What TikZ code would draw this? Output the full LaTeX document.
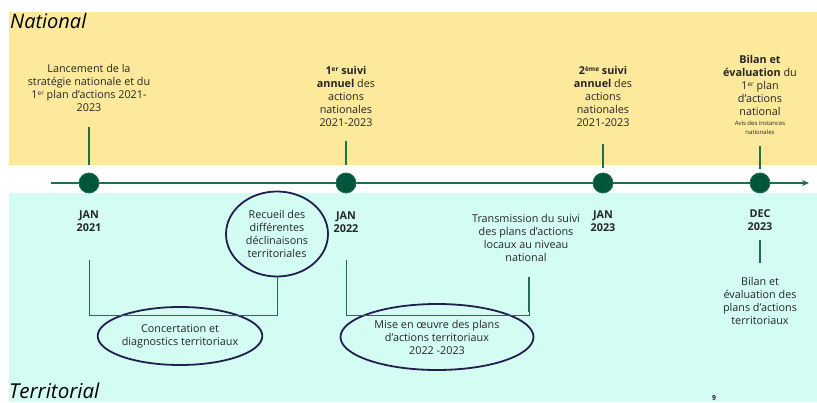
\documentclass[tikz,border=0pt]{standalone}
\usepackage{fontspec}
\setmainfont{Open Sans}
\usetikzlibrary{arrows.meta,shapes.geometric}
\definecolor{natyellow}{HTML}{FCE99C}
\definecolor{terrcyan}{HTML}{D3FCF2}
\definecolor{dotgreen}{HTML}{00553A}
\definecolor{linegreen}{HTML}{1F6E52}
\definecolor{ringblue}{HTML}{221E4F}
\definecolor{txtgray}{HTML}{262626}
\newcommand{\expo}[1]{\raisebox{0.5ex}{\fontsize{6.5}{7}\selectfont #1}}

\begin{document}
\begin{tikzpicture}[x=1pt, y=1pt,
  txt/.style = {align=center, text=txtgray, inner sep=0pt, font=\fontsize{10.8}{13}\selectfont},
  date/.style = {txt, font=\fontsize{10.8}{13}\selectfont\bfseries},
  dot/.style = {circle, minimum size=20pt, inner sep=0pt, fill=dotgreen, draw=linegreen, line width=0.8pt},
  tick/.style = {draw=linegreen, line width=1.5pt},
  bracket/.style = {draw=linegreen, line width=1pt},
  ring/.style = {ellipse, draw=ringblue, line width=1.8pt, inner sep=0pt, align=center, text=txtgray, font=\fontsize{10.8}{13}\selectfont}]
  \useasboundingbox (0,0) rectangle (817,402);
  % bands
  \fill [natyellow] (9,237) rectangle (817,390);
  \fill [terrcyan] (9,0) rectangle (817,209);
  \node [anchor=base west, inner sep=0pt, font=\fontsize{20}{20}\selectfont\itshape] (NAT) at (10,373) {National};
  \node [anchor=base west, inner sep=0pt, text depth=0pt, font=\fontsize{20.5}{20}\selectfont\itshape] (TER) at (9,4) {Territorial};
  % timeline
  \coordinate (START) at (51,219);
  \coordinate (END) at (809,219);
  \draw [linegreen, line width=1.3pt, -{Stealth[length=7pt,width=6pt]}] (START) -- (END);
  \node [dot] (D1) at (89,219) {};
  \node [dot] (D2) at (346,219) {};
  \node [dot] (D3) at (603,219) {};
  \node [dot] (D4) at (760,219) {};
  % national
  \node [txt] (N1) at (89,314.5) {Lancement de la\\strat\'egie nationale et du\\1\expo{er} plan d'actions 2021-\\2023};
  \node [txt] (N2) at (346,306) {\textbf{1\expo{er} suivi}\\\textbf{annuel} des\\actions\\nationales\\2021-2023};
  \node [txt] (N3) at (603,305.5) {\textbf{2\expo{\`eme} suivi}\\\textbf{annuel} des\\actions\\nationales\\2021-2023};
  \node [txt] (N4) at (760,307) {\textbf{Bilan et}\\\textbf{\'evaluation} du\\1\expo{er} plan\\d'actions\\national\\[-3pt]{\fontsize{6}{7}\selectfont Avis des instances}\\[-4pt]{\fontsize{6}{7}\selectfont nationales}};
  \draw [tick] (89,275) -- (89,237);
  \draw [tick] (346,261) -- (346,237);
  \draw [tick] (603,258) -- (603,234);
  \draw [tick] (760,256) -- (760,233);
  % dates
  \node [date] (J1) at (89,180.5) {JAN\\2021};
  \node [date] (J2) at (346,180) {JAN\\2022};
  \node [date] (J3) at (603,180.5) {JAN\\2023};
  \node [date] (J4) at (760,181.5) {DEC\\2023};
  % territorial
  \node [ring, minimum width=102pt, minimum height=85pt] (REC) at (277,168) {Recueil des\\diff\'erentes\\d\'eclinaisons\\territoriales};
  \node [ring, minimum width=164pt, minimum height=58pt] (CON) at (180,66) {Concertation et\\diagnostics territoriaux};
  \node [ring, minimum width=193pt, minimum height=66pt] (MEO) at (437,65) {Mise en \oe uvre des plans\\d'actions territoriaux\\2022 -2023};
  \node [txt] (TRA) at (526,164) {Transmission du suivi\\des plans d'actions\\locaux au niveau\\national};
  \node [txt] (BIL) at (760,101.5) {Bilan et\\\'evaluation des\\plans d'actions\\territoriaux};
  \node [inner sep=0pt, font=\fontsize{7}{7}\selectfont\bfseries, text=ringblue] (PG) at (714,4) {9};
  \coordinate (C1) at (89,142);
  \coordinate (C2) at (346,142);
  \coordinate (C3) at (529,125);
  \draw [bracket] (C1) -- (89,86) -| (REC.south);
  \draw [bracket] (C2) -- (346,86) -| (C3);
  \draw [tick] (C3) -- (529,90);
  \draw [tick] (760,162) -- (760,139);
\end{tikzpicture}
\end{document}
